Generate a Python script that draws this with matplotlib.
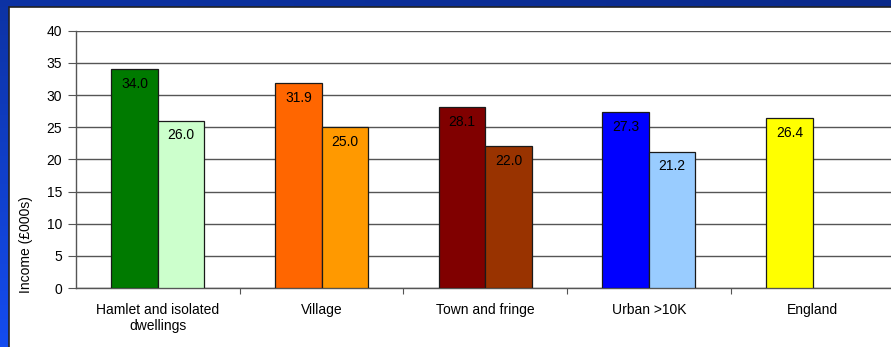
import numpy as np
import matplotlib
matplotlib.use("Agg")
import matplotlib.pyplot as plt
from matplotlib.patches import Rectangle

plt.rcParams['font.family'] = ['Liberation Sans', 'DejaVu Sans']

# data
categories = ["Hamlet and isolated\ndwellings", "Village", "Town and fringe", "Urban >10K", "England"]
series_a = [34.0, 31.9, 28.1, 27.3, 26.4]
series_b = [26.0, 25.0, 22.0, 21.2, None]
colors_a = ["#007A00", "#FF6600", "#800000", "#0000FF", "#FFFF00"]
colors_b = ["#CCFFCC", "#FF9900", "#993300", "#99CCFF", None]
yticks = [0, 5, 10, 15, 20, 25, 30, 35, 40]

W, H = 891, 347
fig = plt.figure(figsize=(W / 100, H / 100), dpi=100)

# blue gradient background
bg = fig.add_axes([0, 0, 1, 1], zorder=-10)
yy, xx = np.mgrid[0:1:100j, 0:1:100j]
t = np.clip(0.75 * yy + 0.25 * (1 - xx), 0, 1)
top = np.array([0x0A, 0x2A, 0x8A]) / 255
bot = np.array([0x14, 0x4C, 0xF0]) / 255
img = top[None, None, :] * (1 - t[..., None]) + bot[None, None, :] * t[..., None]
bg.imshow(img, extent=[0, 1, 0, 1], aspect='auto', origin='upper')
# white panel
bg.add_patch(Rectangle((9 / W, -0.1), 1.1, (H - 7) / H + 0.1, facecolor='white',
                       edgecolor='#222222', lw=1.2))
bg.set_xlim(0, 1)
bg.set_ylim(0, 1)
bg.axis('off')

# main axes (extends slightly past right edge)
left, right, top_px, bot_px = 76, 894.5, 30.7, 288
ax = fig.add_axes([left / W, (H - bot_px) / H, (right - left) / W, (bot_px - top_px) / H])
ax.set_facecolor('none')

fs = 10
x = np.arange(len(categories))
w = 0.284
for i in range(len(categories)):
    ax.bar(x[i] - w / 2, series_a[i], w, color=colors_a[i], edgecolor='#1a1a1a', lw=0.9, zorder=3)
    ax.text(x[i] - w / 2, series_a[i] - 1.2, f"{series_a[i]:.1f}", ha='center', va='top',
            fontsize=fs, zorder=4)
    if series_b[i] is not None:
        ax.bar(x[i] + w / 2, series_b[i], w, color=colors_b[i], edgecolor='#1a1a1a', lw=0.9, zorder=3)
        ax.text(x[i] + w / 2, series_b[i] - 1.2, f"{series_b[i]:.1f}", ha='center', va='top',
                fontsize=fs, zorder=4)

ax.set_xlim(-0.5, len(categories) - 0.5)
ax.set_ylim(0, 40)
ax.set_yticks(yticks)
ax.yaxis.grid(True, color='#555555', lw=1.0, zorder=0)
ax.set_axisbelow(True)
ax.tick_params(axis='y', labelsize=fs, length=6, width=0.8, color='#555555', pad=4)
ax.set_xticks(x)
ax.set_xticklabels(categories, fontsize=fs, linespacing=1.15)
ax.tick_params(axis='x', length=0, pad=11)
ax.set_xticks(np.arange(0.5, len(categories) - 0.5, 1), minor=True)
ax.tick_params(axis='x', which='minor', length=4, width=0.8, color='#555555')
for s in ['top', 'right']:
    ax.spines[s].set_visible(False)
ax.spines['left'].set_color('#555555')
ax.spines['bottom'].set_color('#555555')
ax.spines['left'].set_linewidth(1.0)
ax.spines['bottom'].set_linewidth(1.0)
ax.set_ylabel("Income (£000s)", fontsize=fs, labelpad=12)
ax.yaxis.set_label_coords(-0.052, 0.167)

fig.savefig("out.png", dpi=100)
